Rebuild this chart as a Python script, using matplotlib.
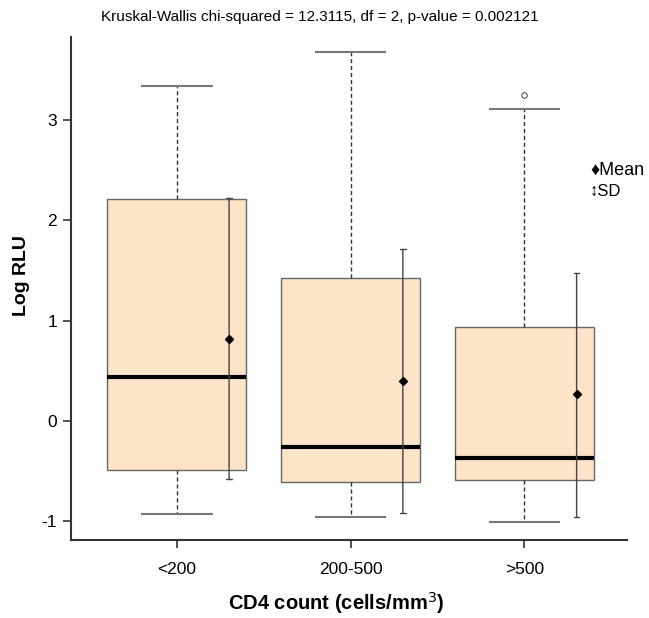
import matplotlib
matplotlib.use("Agg")
import matplotlib.pyplot as plt

plt.rcParams['font.family'] = ['Liberation Sans', 'DejaVu Sans']
plt.rcParams['axes.unicode_minus'] = False

groups = ['<200', '200-500', '>500']
q1 = [-0.49, -0.61, -0.59]
med = [0.44, -0.26, -0.37]
q3 = [2.21, 1.42, 0.94]
wlo = [-0.93, -0.96, -1.01]
whi = [3.34, 3.68, 3.11]
outliers = [[], [], [3.25]]
means = [0.82, 0.40, 0.27]
sd_lo = [-0.58, -0.92, -0.96]
sd_hi = [2.22, 1.71, 1.47]

title = "Kruskal-Wallis chi-squared = 12.3115, df = 2, p-value = 0.002121"

fig = plt.figure(figsize=(6.49, 6.18), dpi=100)
ax = fig.add_axes([71/649, 1-540/618, (627-71)/649, (540-37)/618])

stats = []
for i in range(len(groups)):
    stats.append(dict(med=med[i], q1=q1[i], q3=q3[i], whislo=wlo[i], whishi=whi[i],
                      fliers=outliers[i], label=groups[i]))

pos = [1, 2, 3]
ax.bxp(stats, positions=pos, widths=0.8, patch_artist=True, showfliers=True,
       boxprops=dict(facecolor='#fde4c8', edgecolor='#666666', linewidth=1),
       medianprops=dict(color='black', linewidth=3),
       whiskerprops=dict(color='#333333', linestyle=(0, (3, 2)), linewidth=1),
       capprops=dict(color='#777777', linewidth=1.5),
       capwidths=0.4,
       flierprops=dict(marker='o', markersize=4, markerfacecolor='white',
                       markeredgecolor='#555555', markeredgewidth=0.8))

# mean +/- SD to the right of each box
for i, p in enumerate(pos):
    x = p + 0.3
    ax.annotate('', xy=(x, sd_hi[i]), xytext=(x, sd_lo[i]),
                arrowprops=dict(arrowstyle='|-|,widthA=0.2,widthB=0.2', color='#444444',
                                lw=1, shrinkA=0, shrinkB=0))
    ax.plot(x, means[i], marker='D', color='black', markersize=4.5, zorder=5)

ax.set_xlim(0.39, 3.59)
ax.set_ylim(-1.19, 3.83)
ax.set_yticks([-1, 0, 1, 2, 3])
ax.set_xticks(pos)
ax.set_xticklabels(groups)
ax.tick_params(labelsize=12.5, length=6, width=1.2, color='#333333', pad=4)
ax.tick_params(axis='x', pad=10)
for s in ['top', 'right']:
    ax.spines[s].set_visible(False)
for s in ['left', 'bottom']:
    ax.spines[s].set_linewidth(1.5)
    ax.spines[s].set_color('#333333')

ax.set_ylabel('Log RLU', fontsize=14, fontweight='bold')
ax.set_xlabel('CD4 count (cells/mm$^3$)', fontsize=14.5, fontweight='bold')
ax.yaxis.set_label_coords(-0.074, 0.525)
ax.xaxis.set_label_coords(0.477, -0.099)

fig.text(320/649, 1-17/618, title, ha='center', va='center', fontsize=11)
fig.text(590/649, 1-170/618, '\u2666Mean', ha='left', va='center', fontsize=13)
fig.text(590/649, 1-191/618, '\u2195SD', ha='left', va='center', fontsize=12)

fig.savefig('out.png', dpi=100)
